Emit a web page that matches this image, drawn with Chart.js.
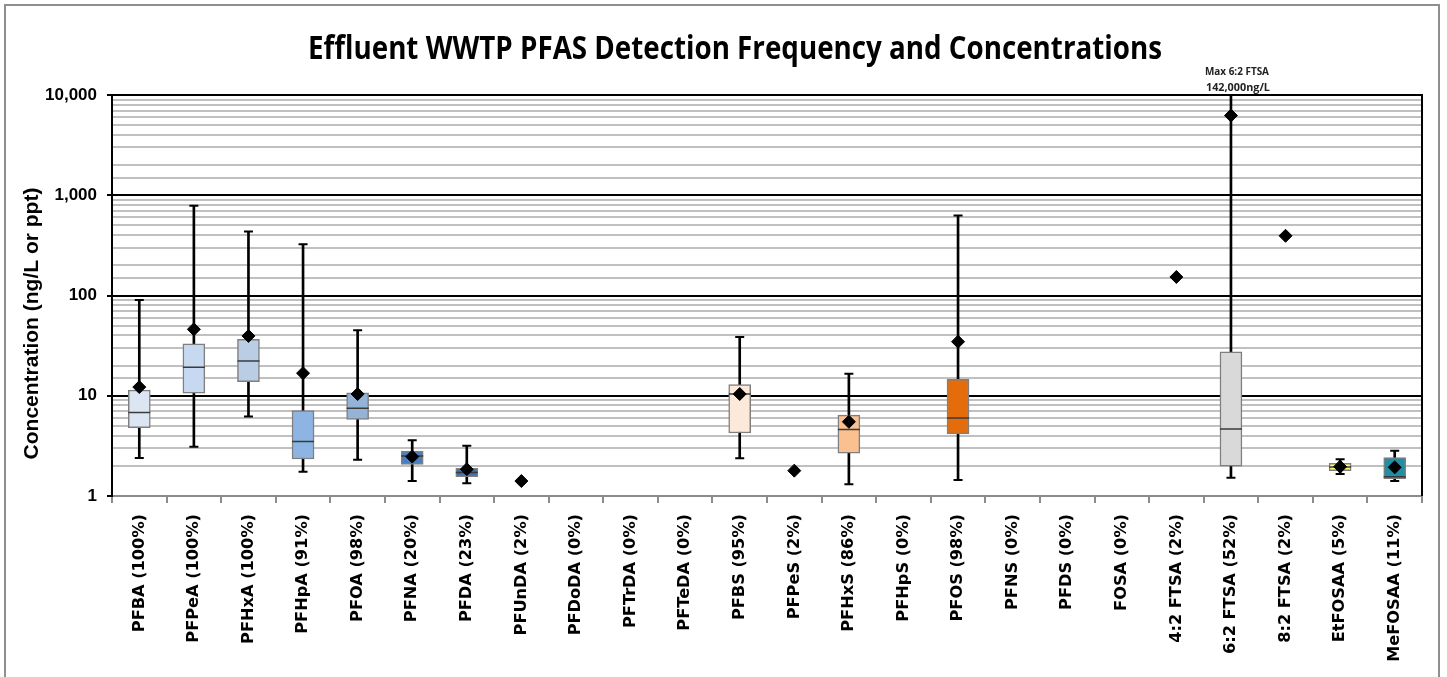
<!DOCTYPE html>
<html>
<head>
<meta charset="utf-8">
<title>Effluent WWTP PFAS Detection Frequency and Concentrations</title>
<script src="https://cdn.jsdelivr.net/npm/chart.js@4.4.1/dist/chart.umd.min.js"></script>
<style>
    html, body { margin: 0; padding: 0; background: #fff; }
    #wrap { position: relative; width: 1447px; height: 677px; overflow: hidden; }
    #chart { position: absolute; left: 0; top: 0; }
    #frame { position: absolute; left: 4px; top: 4px; width: 1432px; height: 720px; border: 2px solid #8f8f8f; pointer-events: none; }
</style>
</head>
<body>
<div id="wrap">
    <canvas id="chart" width="1447" height="677"></canvas>
    <div id="frame"></div>
</div>
<script>
// 图表数据 (ng/L)
const titleText = 'Effluent WWTP PFAS Detection Frequency and Concentrations';
const yTitleText = 'Concentration (ng/L or ppt)';
const noteLines = ['Max 6:2 FTSA', '142,000ng/L'];
const noteCategory = '6:2 FTSA (52%)';

const categories = ['PFBA (100%)', 'PFPeA (100%)', 'PFHxA (100%)', 'PFHpA (91%)', 'PFOA (98%)', 'PFNA (20%)',
    'PFDA (23%)', 'PFUnDA (2%)', 'PFDoDA (0%)', 'PFTrDA (0%)', 'PFTeDA (0%)', 'PFBS (95%)', 'PFPeS (2%)',
    'PFHxS (86%)', 'PFHpS (0%)', 'PFOS (98%)', 'PFNS (0%)', 'PFDS (0%)', 'FOSA (0%)', '4:2 FTSA (2%)',
    '6:2 FTSA (52%)', '8:2 FTSA (2%)', 'EtFOSAA (5%)', 'MeFOSAA (11%)'];

const whiskerLow  = [2.4, 3.1, 6.2, 1.75, 2.3, 1.41, 1.34, null, null, null, null, 2.38, null, 1.31, null, 1.44, null, null, null, null, 1.52, null, 1.66, 1.41];
const boxLow      = [4.8, 10.6, 13.8, 2.34, 5.8, 2.07, 1.56, null, null, null, null, 4.25, null, 2.67, null, 4.16, null, null, null, null, 1.98, null, 1.79, 1.49];
const medians     = [6.8, 19.2, 22.2, 3.5, 7.5, 2.5, 1.72, null, null, null, null, 10.4, null, 4.6, null, 6.0, null, null, null, null, 4.66, null, 1.95, 1.56];
const boxHigh     = [11.4, 32.9, 36.6, 7.1, 10.7, 2.8, 1.89, null, null, null, null, 12.9, null, 6.4, null, 14.6, null, null, null, null, 27.5, null, 2.12, 2.41];
const whiskerHigh = [90, 784, 434, 325, 45, 3.6, 3.18, null, null, null, null, 38.6, null, 16.6, null, 627, null, null, null, null, 142000, null, 2.32, 2.83];
const means       = [12.2, 46, 39.5, 16.8, 10.4, 2.47, 1.85, 1.41, null, null, null, 10.4, 1.79, 5.5, null, 34.6, null, null, null, 153, 6240, 394, 1.96, 1.93];

const boxColors = ['#dce6f2', '#c6d9f1', '#b9cde5', '#8db4e2', '#95b3d7', '#4a7fc1', '#3d72b8', null, null, null, null,
    '#fde9d9', null, '#fac090', null, '#e46c0a', null, null, null, null, '#d9d9d9', null, '#ffff66', '#1f8fa6'];

// 浮动柱 [低, 高]
function ranges(low, high) {
    return low.map((v, i) => (v == null || high[i] == null) ? null : [v, high[i]]);
}

function isDecade(v) {
    const l = Math.log10(v);
    return Math.abs(l - Math.round(l)) < 1e-9;
}

// 横向压缩文字，模拟 Calibri 的窄字形
function fitText(ctx, text, font, cx, y, width) {
    ctx.font = font;
    const sx = width / ctx.measureText(text).width;
    ctx.save();
    ctx.translate(cx, y);
    ctx.scale(sx, 1);
    ctx.textAlign = 'center';
    ctx.fillText(text, 0, 0);
    ctx.restore();
}

// 标题、纵轴标题、注释和右边框
const textPlugin = {
    id: 'chartTexts',
    afterDraw(chart) {
        const ctx = chart.ctx;
        const area = chart.chartArea;
        ctx.save();

        ctx.strokeStyle = '#000';
        ctx.lineWidth = 2;
        ctx.beginPath();
        ctx.moveTo(area.right, area.top - 1);
        ctx.lineTo(area.right, area.bottom);
        ctx.stroke();

        ctx.fillStyle = '#000';
        ctx.textBaseline = 'alphabetic';
        fitText(ctx, titleText, 'bold 33px "Open Sans"', 735, 59, 854);

        ctx.fillStyle = '#222';
        const nx = chart.scales.x.getPixelForValue(categories.indexOf(noteCategory)) + 6;
        fitText(ctx, noteLines[0], 'bold 11px "Open Sans"', nx, 75, 64);
        fitText(ctx, noteLines[1], 'bold 11px "Open Sans"', nx + 1, 91, 64);

        ctx.fillStyle = '#000';
        ctx.textAlign = 'center';
        ctx.textBaseline = 'middle';
        ctx.translate(32, 323.5);
        ctx.rotate(-Math.PI / 2);
        ctx.font = 'bold 21px "Liberation Sans"';
        ctx.fillText(yTitleText, 0, 0);
        ctx.restore();
    }
};

const pointSet = (data, style, radius, color, width, order) => ({
    type: 'line',
    data: data,
    showLine: false,
    pointStyle: style,
    pointRadius: radius,
    pointBackgroundColor: color,
    pointBorderColor: color,
    pointBorderWidth: width,
    order: order
});

new Chart(document.getElementById('chart'), {
    type: 'bar',
    data: {
        labels: categories,
        datasets: [
            {
                data: ranges(whiskerLow, whiskerHigh),
                backgroundColor: '#000',
                barThickness: 2,
                grouped: false,
                order: 5
            },
            {
                data: ranges(boxLow, boxHigh),
                backgroundColor: boxColors.map(c => c || 'rgba(0,0,0,0)'),
                borderColor: '#7f7f7f',
                borderWidth: 1.5,
                borderSkipped: false,
                barThickness: 22,
                grouped: false,
                order: 4
            },
            pointSet(whiskerHigh, 'line', 4.5, '#000', 2, 3),
            pointSet(whiskerLow, 'line', 4.5, '#000', 2, 3),
            pointSet(medians, 'line', 11, '#3a3a3a', 1.5, 2),
            pointSet(means, 'rectRot', 6.5, '#000', 1, 1)
        ]
    },
    options: {
        responsive: false,
        animation: false,
        events: [],
        layout: { padding: { top: 95, right: 25, left: 0, bottom: 0 } },
        plugins: {
            legend: { display: false },
            title: { display: false },
            tooltip: { enabled: false }
        },
        scales: {
            x: {
                type: 'category',
                offset: true,
                afterFit: s => { s.height = 181; },
                border: { color: '#8c8c8c', width: 2 },
                grid: { offset: true, drawOnChartArea: false, color: '#8c8c8c', lineWidth: 2, tickLength: 7 },
                ticks: {
                    autoSkip: false,
                    minRotation: 90,
                    maxRotation: 90,
                    padding: 11,
                    color: '#000',
                    font: { family: '"DejaVu Sans"', weight: 'bold', size: 16.2 }
                }
            },
            y: {
                type: 'logarithmic',
                min: 1,
                max: 10000,
                afterFit: s => { s.width = 112; },
                border: { color: '#000', width: 2 },
                grid: {
                    color: c => (c.tick && isDecade(c.tick.value)) ? '#000' : '#c0c0c0',
                    tickColor: c => (c.tick && isDecade(c.tick.value)) ? '#000' : 'rgba(0,0,0,0)',
                    lineWidth: 2,
                    tickLength: 5
                },
                ticks: {
                    autoSkip: false,
                    padding: 10,
                    color: '#000',
                    font: { family: '"Liberation Sans"', weight: 'bold', size: 17 },
                    callback: v => isDecade(v) ? Number(v).toLocaleString('en-US') : ''
                }
            }
        }
    },
    plugins: [textPlugin]
});
</script>
</body>
</html>
